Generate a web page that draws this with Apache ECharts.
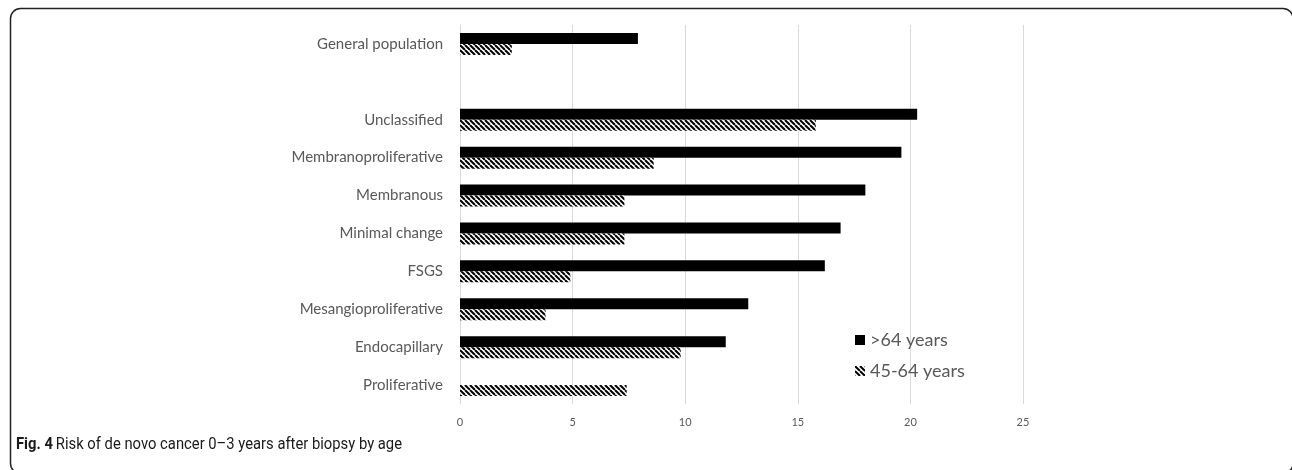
<!DOCTYPE html>
<html>
<head>
<meta charset="utf-8">
<script src="https://cdn.jsdelivr.net/npm/echarts@6/dist/echarts.min.js"></script>
<style>
html,body{margin:0;padding:0;background:#fff;}
#chart{width:1292px;height:470px;}
</style>
</head>
<body>
<div id="chart"></div>
<script>
const categories = ['General population', '', 'Unclassified', 'Membranoproliferative', 'Membranous', 'Minimal change', 'FSGS', 'Mesangioproliferative', 'Endocapillary', 'Proliferative'];
const seriesNames = ['>64 years', '45-64 years'];
const olderValues = [7.9, null, 20.3, 19.6, 18.0, 16.9, 16.2, 12.8, 11.8, null];
const middleValues = [2.3, null, 15.8, 8.6, 7.3, 7.3, 4.9, 3.8, 9.8, 7.4];
const xTicks = [0, 5, 10, 15, 20, 25];

function makeHatch() {
  const s = 5;
  const c = document.createElement('canvas');
  c.width = s; c.height = s;
  const g = c.getContext('2d');
  g.fillStyle = '#fff';
  g.fillRect(0, 0, s, s);
  g.strokeStyle = '#000';
  g.lineWidth = 2;
  for (const k of [-s, 0, s]) {
    g.beginPath();
    g.moveTo(k, 0);
    g.lineTo(k + s, s);
    g.stroke();
  }
  return c;
}
const hatch = { image: makeHatch(), repeat: 'repeat' };

const chart = echarts.init(document.getElementById('chart'), null, { renderer: 'canvas' });
chart.setOption({
  animation: false,
  backgroundColor: '#fff',
  grid: { left: 460, right: 269, top: 25, bottom: 66, containLabel: false },
  xAxis: {
    type: 'value',
    min: xTicks[0],
    max: xTicks[xTicks.length - 1],
    interval: 5,
    axisLine: { show: false },
    axisTick: { show: false },
    axisLabel: { color: '#595959', fontSize: 11, fontFamily: 'Lato', margin: 13 },
    splitLine: { show: true, lineStyle: { color: '#d9d9d9', width: 1 } }
  },
  yAxis: {
    type: 'category',
    data: categories,
    inverse: true,
    axisLine: { show: true, lineStyle: { color: '#d9d9d9', width: 1 } },
    axisTick: { show: false },
    axisLabel: { color: '#595959', fontSize: 15, fontFamily: 'Lato', margin: 17 }
  },
  legend: {
    orient: 'vertical',
    left: 850,
    top: 326,
    itemWidth: 10,
    itemHeight: 10,
    itemGap: 13,
    icon: 'rect',
    textStyle: { color: '#595959', fontSize: 18, fontFamily: 'Lato', padding: [0, 0, 0, 0] },
    data: seriesNames
  },
  series: [
    {
      name: seriesNames[0],
      type: 'bar',
      data: olderValues,
      barWidth: 11,
      barGap: '0%',
      itemStyle: { color: '#000' }
    },
    {
      name: seriesNames[1],
      type: 'bar',
      data: middleValues,
      barWidth: 11,
      barGap: '0%',
      itemStyle: { color: hatch }
    }
  ],
  graphic: [
    {
      type: 'rect',
      shape: { x: 10.5, y: 8.5, width: 1282.5, height: 465, r: 10 },
      style: { fill: 'none', stroke: '#222', lineWidth: 1.5 },
      z: 100
    },
    {
      type: 'text',
      x: 16,
      y: 436,
      scaleX: 0.87,
      style: {
        text: '{b|Fig. 4} {n|Risk of de novo cancer 0–3 years after biopsy by age}',
        rich: {
          b: { fontWeight: 'bold', fontSize: 17, fontFamily: 'Roboto', fill: '#1a1a1a' },
          n: { fontSize: 17, fontFamily: 'Roboto', fill: '#1a1a1a' }
        }
      },
      z: 100
    }
  ]
});
</script>
</body>
</html>
